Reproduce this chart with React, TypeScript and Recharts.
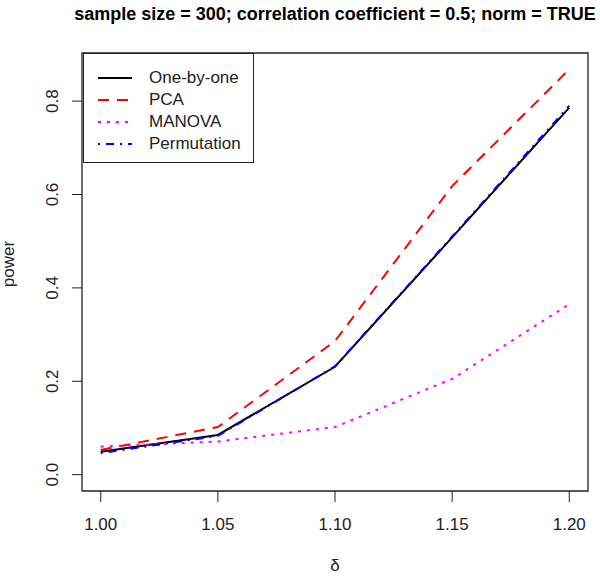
import React from "react";
import {
  LineChart,
  Line,
  XAxis,
  YAxis,
  ReferenceArea,
  Legend,
  Label,
} from "recharts";

// values
const DELTA = [1.0, 1.05, 1.1, 1.15, 1.2];
const ONE_BY_ONE = [0.049, 0.085, 0.231, 0.508, 0.786];
const PCA = [0.053, 0.102, 0.286, 0.618, 0.868];
const MANOVA = [0.06, 0.071, 0.102, 0.205, 0.365];
const PERMUTATION = [0.046, 0.083, 0.232, 0.51, 0.79];

const X_TICKS = [1.0, 1.05, 1.1, 1.15, 1.2];
const Y_TICKS = [0, 0.2, 0.4, 0.6, 0.8];
const X_DOMAIN = [0.992, 1.208];
const Y_DOMAIN = [-0.035, 0.903];

const TITLE = "sample size = 300; correlation coefficient = 0.5; norm = TRUE";

const FONT = "'Liberation Sans', Arial, sans-serif";
const INK = "#222";

const SERIES = [
  { key: "oneByOne", name: "One-by-one", color: "#000000", dash: undefined },
  { key: "pca", name: "PCA", color: "#ff0000", dash: "11 8" },
  { key: "manova", name: "MANOVA", color: "#ff00ff", dash: "3 6" },
  { key: "permutation", name: "Permutation", color: "#0000ff", dash: "2 6 8 6" },
];

const data = DELTA.map((d, i) => ({
  delta: d,
  oneByOne: ONE_BY_ONE[i],
  pca: PCA[i],
  manova: MANOVA[i],
  permutation: PERMUTATION[i],
}));

const YTick = (props: any) => {
  const { x, y, payload } = props;
  return (
    <text
      x={x}
      y={y}
      transform={`rotate(-90 ${x} ${y})`}
      textAnchor="middle"
      fontSize={17}
      fontFamily={FONT}
      fill={INK}
    >
      {Number(payload.value).toFixed(1)}
    </text>
  );
};

const renderLegend = () => (
  <div
    style={{
      position: "relative",
      width: 171,
      height: 110,
      border: `1px solid ${INK}`,
      boxSizing: "border-box",
      background: "#fff",
      fontFamily: FONT,
      fontSize: 17,
      color: INK,
    }}
  >
    {SERIES.map((s, i) => (
      <div
        key={s.key}
        style={{
          position: "absolute",
          left: 0,
          top: 13 + i * 22,
          height: 22,
          width: "100%",
        }}
      >
        <svg
          width={34}
          height={22}
          style={{ position: "absolute", left: 14, top: 0 }}
        >
          <line
            x1={0}
            y1={11}
            x2={34}
            y2={11}
            stroke={s.color}
            strokeWidth={2}
            strokeDasharray={s.dash}
          />
        </svg>
        <span
          style={{
            position: "absolute",
            left: 65,
            top: 0,
            lineHeight: "22px",
            whiteSpace: "nowrap",
          }}
        >
          {s.name}
        </span>
      </div>
    ))}
  </div>
);

export default function App() {
  return (
    <div
      style={{
        position: "absolute",
        left: 0,
        top: 0,
        width: 600,
        height: 577,
        background: "#fff",
      }}
    >
      <svg
        width={600}
        height={40}
        style={{ position: "absolute", left: 0, top: 0 }}
      >
        <text
          x={335}
          y={20}
          textAnchor="middle"
          fontSize={18}
          fontWeight="bold"
          fontFamily={FONT}
          fill="#000"
        >
          {TITLE}
        </text>
      </svg>
      <LineChart
        width={600}
        height={577}
        data={data}
        margin={{ top: 53, right: 12, bottom: 56, left: 22 }}
      >
        <XAxis
          dataKey="delta"
          type="number"
          domain={X_DOMAIN}
          ticks={X_TICKS}
          allowDataOverflow
          axisLine={false}
          tickLine={{ stroke: INK }}
          tickSize={11}
          tickMargin={16}
          height={30}
          tick={{ fontSize: 17, fill: INK, fontFamily: FONT }}
          tickFormatter={(v: number) => v.toFixed(2)}
        >
          <Label
            content={() => (
              <text
                x={335}
                y={571}
                textAnchor="middle"
                fontSize={17}
                fontFamily={FONT}
                fill={INK}
              >
                δ
              </text>
            )}
          />
        </XAxis>
        <YAxis
          type="number"
          domain={Y_DOMAIN}
          ticks={Y_TICKS}
          allowDataOverflow
          axisLine={false}
          tickLine={{ stroke: INK }}
          tickSize={10}
          tickMargin={14}
          width={60}
          tick={<YTick />}
        >
          <Label
            content={() => (
              <text
                x={14}
                y={264}
                transform="rotate(-90 14 264)"
                textAnchor="middle"
                fontSize={17}
                fontFamily={FONT}
                fill={INK}
              >
                power
              </text>
            )}
          />
        </YAxis>
        <ReferenceArea
          x1={X_DOMAIN[0]}
          x2={X_DOMAIN[1]}
          y1={Y_DOMAIN[0]}
          y2={Y_DOMAIN[1]}
          fill="none"
          stroke={INK}
          strokeWidth={1.3}
          ifOverflow="visible"
        />
        {SERIES.map((s) => (
          <Line
            key={s.key}
            type="linear"
            dataKey={s.key}
            name={s.name}
            stroke={s.color}
            strokeWidth={2}
            strokeDasharray={s.dash}
            dot={false}
            isAnimationActive={false}
          />
        ))}
        <Legend
          layout="horizontal"
          verticalAlign="middle"
          align="center"
          wrapperStyle={{ left: 83, top: 53, width: 171, height: 110 }}
          content={renderLegend}
        />
      </LineChart>
    </div>
  );
}
